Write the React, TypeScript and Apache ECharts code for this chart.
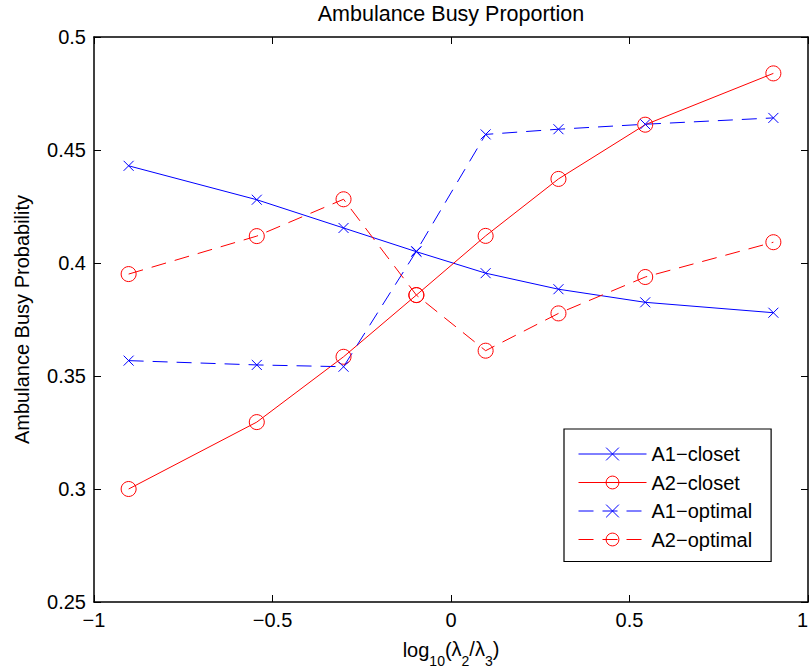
import React, { useEffect, useRef } from "react";
import * as echarts from "echarts";

const xValues = [-0.903, -0.544, -0.301, -0.097, 0.097, 0.301, 0.544, 0.903];
const a1Closet = [0.443, 0.428, 0.4155, 0.405, 0.3955, 0.3884, 0.3826, 0.378];
const a2Closet = [0.3, 0.3296, 0.3585, 0.3858, 0.412, 0.4372, 0.4612, 0.4839];
const a1Optimal = [0.3568, 0.3549, 0.3541, 0.4052, 0.4569, 0.4592, 0.4614, 0.4642];
const a2Optimal = [0.3951, 0.4119, 0.4282, 0.3858, 0.3612, 0.3777, 0.3938, 0.4092];
const seriesNames = ["A1\u2212closet", "A2\u2212closet", "A1\u2212optimal", "A2\u2212optimal"];
const xTickLabels = ["\u22121", "\u22120.5", "0", "0.5", "1"];
const yTickLabels = ["0.25", "0.3", "0.35", "0.4", "0.45", "0.5"];

const FONT = "'Liberation Sans', Arial, Helvetica, sans-serif";
const BLUE = "#0000ff";
const RED = "#ff0000";
const CROSS = "path://M0,0L10,10M10,0L0,10";
const DASH = [15, 9];

export default function App() {
  const ref = useRef<HTMLDivElement>(null);
  useEffect(() => {
    if (!ref.current) return;
    const chart = echarts.init(ref.current, undefined, { renderer: "svg" });
    const pts = (ys: number[]) => xValues.map((x, i) => [x, ys[i]]);
    const specs = [
      { name: seriesNames[0], ys: a1Closet, color: BLUE, symbol: CROSS, size: 10, type: "solid" as any },
      { name: seriesNames[1], ys: a2Closet, color: RED, symbol: "circle", size: 15, type: "solid" as any },
      { name: seriesNames[2], ys: a1Optimal, color: BLUE, symbol: CROSS, size: 10, type: DASH as any },
      { name: seriesNames[3], ys: a2Optimal, color: RED, symbol: "circle", size: 15, type: DASH as any },
    ];
    const xLabel = (v: number) => {
      const idx = Math.round((v + 1) / 0.5);
      return xTickLabels[idx] ?? "";
    };
    const yLabel = (v: number) => {
      const idx = Math.round((v - 0.25) / 0.05);
      return yTickLabels[idx] ?? "";
    };
    const axisLine = { show: true, onZero: false, lineStyle: { color: "#000", width: 1.5 } };
    const tick = { show: true, inside: true, length: 7, lineStyle: { color: "#000", width: 1 } };
    chart.setOption({
      animation: false,
      backgroundColor: "#fff",
      textStyle: { fontFamily: FONT },
      grid: { left: 94, top: 37, width: 714, height: 565, containLabel: false, outerBoundsMode: "none" },
      graphic: [
        {
          type: "text",
          x: 451,
          y: 14,
          style: {
            text: "Ambulance Busy Proportion",
            font: `21.5px ${FONT}`,
            fill: "#000",
            textAlign: "center",
            textVerticalAlign: "middle",
          },
        },
      ],
      xAxis: [
        {
          type: "value",
          min: -1,
          max: 1,
          interval: 0.5,
          position: "bottom",
          axisLine,
          axisTick: tick,
          splitLine: { show: false },
          axisLabel: {
            color: "#000",
            fontSize: 20,
            margin: 8,
            formatter: xLabel,
            fontFamily: FONT,
            alignMaxLabel: "right",
          },
          name: "log{sub|10}({n|\u03bb}{sub|2}{n|/\u03bb}{sub|3}{n|)}",
          nameLocation: "middle",
          nameGap: 37,
          nameTextStyle: {
            color: "#000",
            fontSize: 20,
            fontFamily: FONT,
            verticalAlign: "top",
            lineHeight: 22,
            rich: {
              n: { fontSize: 20, lineHeight: 22, verticalAlign: "top", fontFamily: FONT, color: "#000" },
              sub: { fontSize: 14, lineHeight: 14, padding: [15, 0, 0, 0], verticalAlign: "top", fontFamily: FONT, color: "#000" },
            },
          },
        },
        {
          type: "value",
          min: -1,
          max: 1,
          interval: 0.5,
          position: "top",
          axisLine,
          axisTick: tick,
          splitLine: { show: false },
          axisLabel: { show: false },
        },
      ],
      yAxis: [
        {
          type: "value",
          min: 0.25,
          max: 0.5,
          interval: 0.05,
          position: "left",
          axisLine,
          axisTick: tick,
          splitLine: { show: false },
          axisLabel: { color: "#000", fontSize: 20, margin: 8, formatter: yLabel, fontFamily: FONT },
          name: "Ambulance Busy Probability",
          nameLocation: "middle",
          nameGap: 62,
          nameTextStyle: { color: "#000", fontSize: 20, fontFamily: FONT },
        },
        {
          type: "value",
          min: 0.25,
          max: 0.5,
          interval: 0.05,
          position: "right",
          axisLine,
          axisTick: tick,
          splitLine: { show: false },
          axisLabel: { show: false },
        },
      ],
      legend: {
        orient: "vertical",
        left: 564,
        top: 429,
        padding: [15, 19, 12, 14],
        itemGap: 8.5,
        itemWidth: 68,
        itemHeight: 16,
        backgroundColor: "#fff",
        borderColor: "#000",
        borderWidth: 1.2,
        borderRadius: 0,
        selectedMode: false,
        textStyle: { color: "#000", fontSize: 20, fontFamily: FONT },
        data: specs.map((s) => ({
          name: s.name,
          itemStyle: { color: "rgba(0,0,0,0)", borderColor: s.color, borderWidth: 1 },
          lineStyle: { color: s.color, width: 1, type: s.type },
        })),
      },
      series: specs.map((s) => ({
        name: s.name,
        type: "line",
        xAxisIndex: 0,
        yAxisIndex: 0,
        data: pts(s.ys),
        symbol: s.symbol,
        symbolSize: s.size,
        showSymbol: true,
        silent: true,
        clip: false,
        lineStyle: { color: s.color, width: 1, type: s.type },
        itemStyle: { color: "rgba(0,0,0,0)", borderColor: s.color, borderWidth: 1 },
        emphasis: { disabled: true },
      })),
    });
    return () => chart.dispose();
  }, []);
  return (
    <div
      ref={ref}
      style={{ position: "absolute", left: 0, top: 0, width: 810, height: 670 }}
    />
  );
}
